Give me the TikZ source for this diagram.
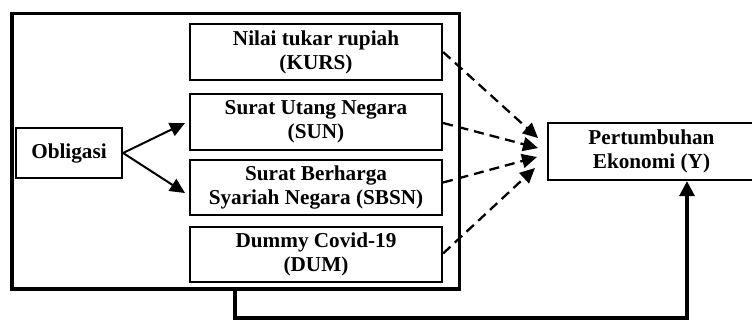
\documentclass[tikz,border=0pt]{standalone}
\usepackage{fontspec}
\setmainfont{Liberation Serif}
\usetikzlibrary{arrows.meta,calc}
\begin{document}
\begin{tikzpicture}[x=1pt,y=-1pt,
  box/.style={draw,line width=2.2pt,inner sep=0pt,align=center,
    font=\fontsize{21.2}{24}\selectfont\bfseries},
  solidarr/.style={line width=2pt,-{Triangle[length=15pt,width=14pt]}},
  dasharr/.style={line width=2.3pt,dash pattern=on 10pt off 6pt,-{Triangle[length=15pt,width=14pt]}},
  feedarr/.style={line width=3.2pt,-{Triangle[length=15pt,width=15pt]}}]
\useasboundingbox (0,0) rectangle (752,320);
\node[draw,line width=3.5pt,minimum width=447.5pt,minimum height=275.5pt,inner sep=0pt] (frame) at (235.5,151.5) {};
\node[box,minimum width=252pt,minimum height=56pt] (kurs) at (316,52) {Nilai tukar rupiah\\(KURS)};
\node[box,minimum width=252pt,minimum height=56pt] (sun) at (316,122) {Surat Utang Negara\\(SUN)};
\node[box,minimum width=252pt,minimum height=55pt] (sbsn) at (316,187.5) {Surat Berharga\\Syariah Negara (SBSN)};
\node[box,minimum width=252pt,minimum height=55pt] (dum) at (316,254.5) {Dummy Covid-19\\(DUM)};
\node[box,minimum width=106pt,minimum height=50pt] (obl) at (69,153) {Obligasi};
\node[box,minimum width=207pt,minimum height=57pt] (y) at (651.5,151.5) {Pertumbuhan\\Ekonomi (Y)};
\coordinate (t1) at (538,138);
\coordinate (t2) at (538,148);
\coordinate (t3) at (537,157);
\coordinate (t4) at (535,168);
\coordinate (a1) at (185,123);
\coordinate (a2) at (185,193);
\draw[solidarr] (obl.east) -- (a1);
\draw[solidarr] (obl.east) -- (a2);
\draw[dasharr] (kurs.east) -- (t1);
\draw[dasharr] ($(sun.east)+(0,1)$) -- (t2);
\draw[dasharr] ($(sbsn.east)+(0,-5)$) -- (t3);
\draw[dasharr] ($(dum.east)+(0,-1)$) -- (t4);
\coordinate (fx) at (235,0);
\coordinate (f0) at (fx |- frame.south);
\coordinate (f1) at (235,318);
\coordinate (f2) at (687,318);
\draw[feedarr] (f0) -- (f1) -- (f2) -- (y.south -| f2);
\end{tikzpicture}
\end{document}
